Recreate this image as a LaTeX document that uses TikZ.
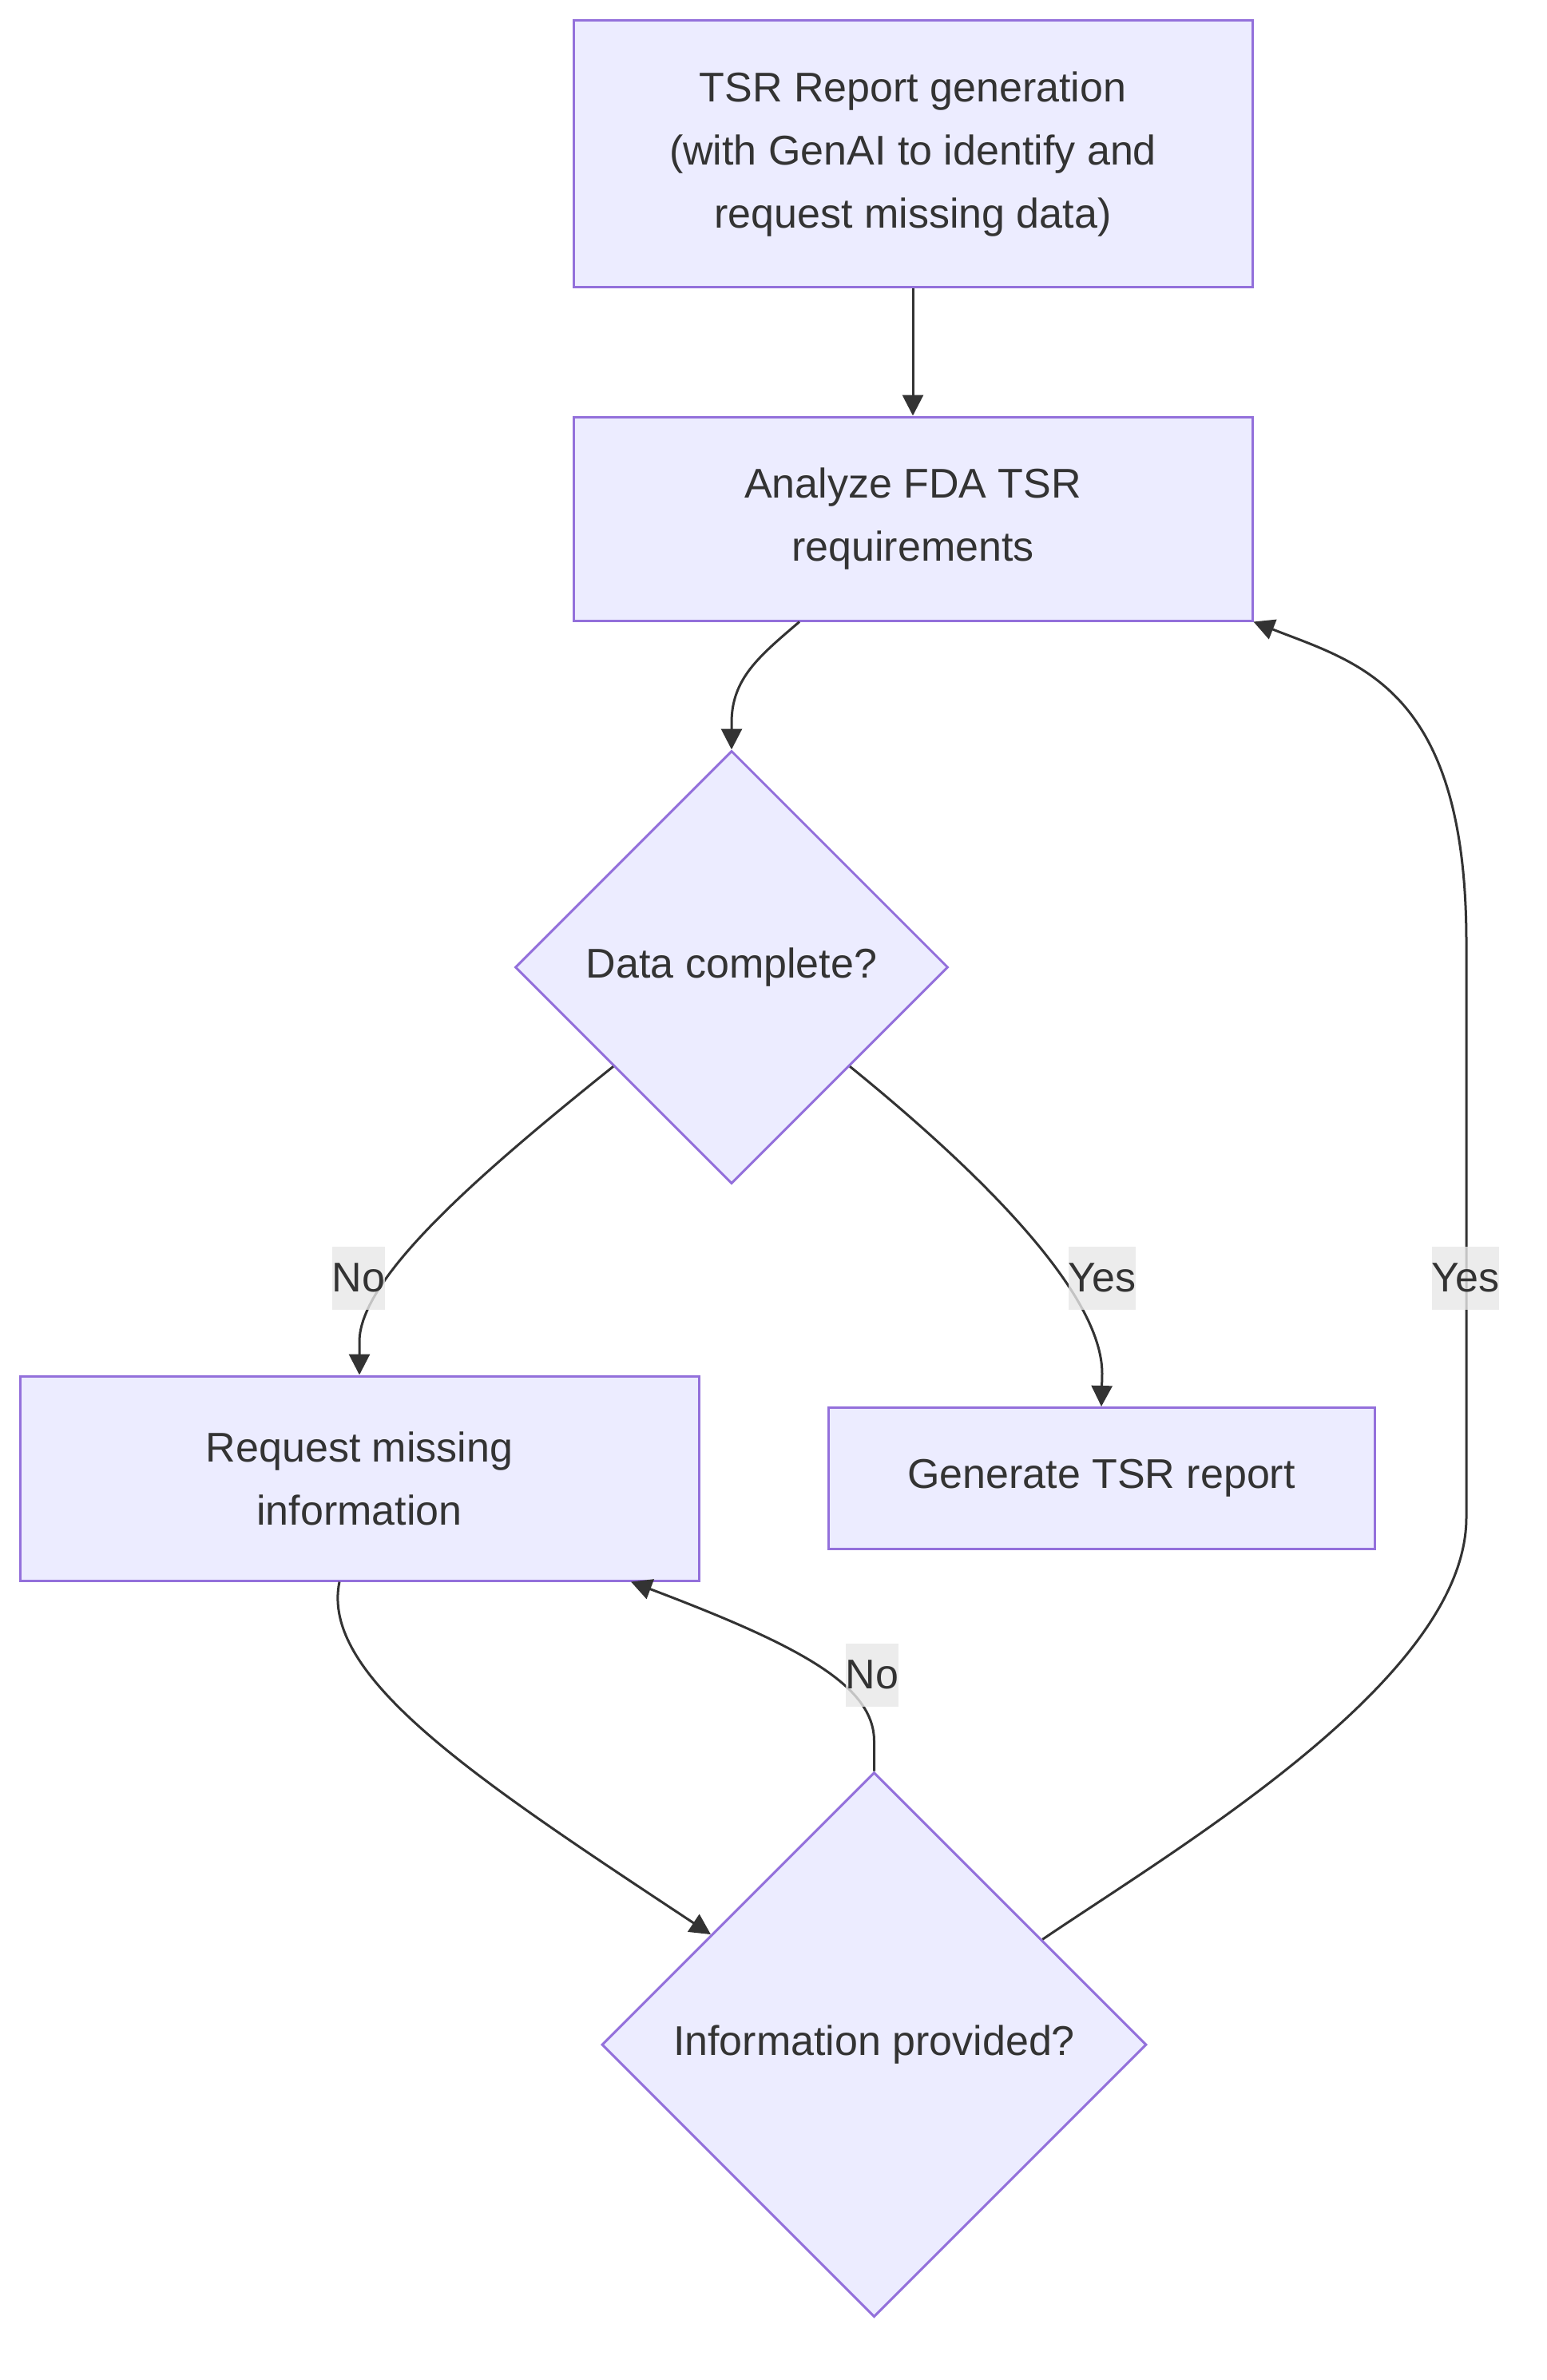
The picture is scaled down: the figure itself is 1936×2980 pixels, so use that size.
\documentclass[tikz,border=0pt]{standalone}
\usepackage{fontspec}
\setmainfont{Liberation Sans}
\usetikzlibrary{shapes.geometric,arrows.meta}
\definecolor{nodefill}{HTML}{ECECFF}
\definecolor{nodeline}{HTML}{9370DB}
\definecolor{ink}{HTML}{333333}
\definecolor{lblbg}{HTML}{E8E8E8}
\newcommand{\diagfont}{\fontsize{52}{79}\selectfont}
\begin{document}
\begin{tikzpicture}[x=1pt,y=-1pt,
  box/.style={draw=nodeline, fill=nodefill, line width=3pt, text=ink, font=\diagfont, align=center, inner sep=0pt},
  dec/.style={diamond, aspect=1, draw=nodeline, fill=nodefill, line width=3pt, text=ink, font=\diagfont, inner sep=0pt},
  conn/.style={draw=ink, line width=3pt, -{Triangle[length=26pt,width=26pt]}},
  lbl/.style={fill=lblbg, fill opacity=0.8, text opacity=1, text=ink, font=\diagfont, inner xsep=0pt, inner ysep=0pt, minimum height=79pt}]
\fill[white] (0,0) rectangle (1936,2980);
\useasboundingbox (0,0) rectangle (1936,2980);

\node[box, minimum width=850pt, minimum height=334pt] (b1) at (1143,192.7) {TSR Report generation\\(with GenAI to identify and\\request missing data)};
\node[box, minimum width=850pt, minimum height=255pt] (b2) at (1143,649.5) {Analyze FDA TSR\\requirements};
\node[dec, minimum width=542pt, minimum height=542pt] (d1) at (916,1211) {Data complete?};
\node[box, minimum width=850pt, minimum height=256pt] (req) at (450,1851) {Request missing\\information};
\node[box, minimum width=684pt, minimum height=177pt] (gen) at (1379,1851) {Generate TSR report};
\node[dec, minimum width=682pt, minimum height=682pt] (d2) at (1094.5,2560) {Information provided?};

\draw[conn] (b1.south) -- (b2.north);
\draw[conn] ([xshift=-142pt]b2.south) .. controls (950,822) and (916,850) .. (916,905) -- (d1.north);
\draw[conn] (d1.220) .. controls (600,1470) and (450,1600) .. (450,1680) -- (req.north);
\draw[conn] (d1.320) .. controls (1230,1470) and (1380,1620) .. (1380,1720) -- (gen.north);
\draw[conn] ([xshift=-25pt]req.south) .. controls (400,2100) and (600,2230) .. (d2.146);
\draw[conn] (d2.north) -- (1094.5,2180) .. controls (1094.5,2110) and (1000,2060) .. ([xshift=340pt]req.south);
\draw[conn] (d2.32) .. controls (1480,2310) and (1836,2100) .. (1836,1900) -- (1836,1180) .. controls (1836,860) and (1700,830) .. (b2.south east);

\node[lbl] (l1) at (449,1600) {No};
\node[lbl] (l2) at (1380,1600) {Yes};
\node[lbl] (l3) at (1835,1600) {Yes};
\node[lbl] (l4) at (1092,2097) {No};
\end{tikzpicture}
\end{document}
